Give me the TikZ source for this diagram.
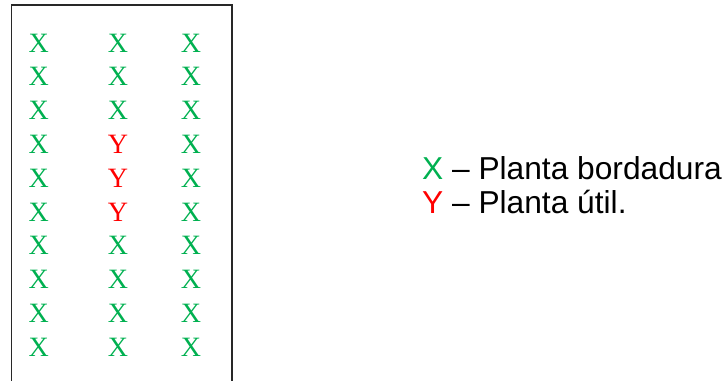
\documentclass[tikz,border=0pt]{standalone}
\usepackage{fontspec}
\setmainfont{Liberation Serif}
\newfontfamily\legendfont{Liberation Sans}
\definecolor{plotgreen}{RGB}{0,176,80}
\definecolor{plotred}{RGB}{255,0,0}
\definecolor{frame}{RGB}{40,40,40}
\begin{document}
\begin{tikzpicture}[x=1pt,y=-1pt,
  plant/.style={inner sep=0pt, font=\fontsize{28}{28}\selectfont},
  border/.style={plant, text=plotgreen},
  useful/.style={plant, text=plotred},
  legend/.style={anchor=base west, inner sep=0pt, font=\legendfont\fontsize{31.7}{31.7}\selectfont}]
  \useasboundingbox (0,0) rectangle (727,380);
  % plot outline (runs past the lower edge)
  \draw[frame, line width=1.5pt] (11.5,400) -- (11.5,5) -- (232,5) -- (232,400);
  % plants: three columns, ten rows
  \foreach \c/\x in {1/38.8,2/118,3/191}{
    \foreach \r in {1,...,10}{
      \pgfmathsetmacro{\yy}{43+33.8*(\r-1)}
      \ifnum\c=2
        \ifnum\r>3 \ifnum\r<7
          \node[useful] (p\c-\r) at (\x,\yy) {Y};
        \else
          \node[border] (p\c-\r) at (\x,\yy) {X};
        \fi
        \else
          \node[border] (p\c-\r) at (\x,\yy) {X};
        \fi
      \else
        \node[border] (p\c-\r) at (\x,\yy) {X};
      \fi
    }
  }
  % legend
  \node[legend] (leg1) at (422,179) {\textcolor{plotgreen}{X} – Planta bordadura};
  \node[legend] (leg2) at (422,213.5) {\textcolor{plotred}{Y} – Planta útil.};
\end{tikzpicture}
\end{document}
